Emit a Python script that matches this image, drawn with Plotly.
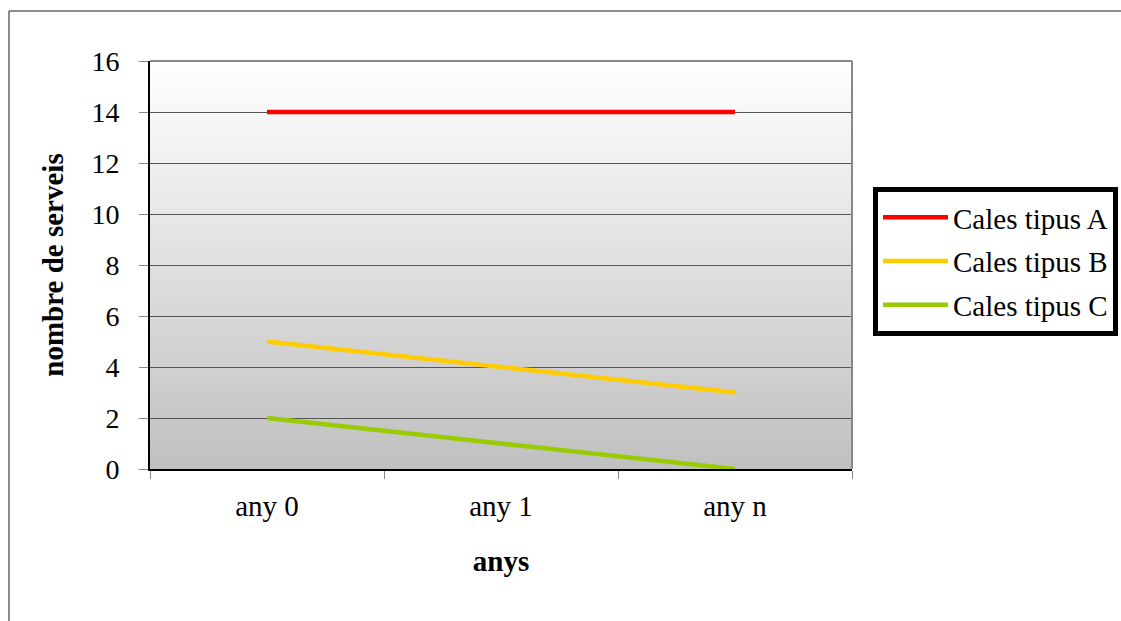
import plotly.graph_objects as go

# Data
categories = ["any 0", "any 1", "any n"]
serie_a = [14, 14, 14]
serie_b = [5, 4, 3]
serie_c = [2, 1, 0]
series_names = ["Cales tipus A", "Cales tipus B", "Cales tipus C"]
series_colors = ["#FF0000", "#FFCC00", "#99CC00"]
y_ticks = [0, 2, 4, 6, 8, 10, 12, 14, 16]

W, H = 1121, 621
L, R, T, B = 150, 269, 61, 152
FONT = "Liberation Serif"
FS = 29

fig = go.Figure()
for i, (name, vals, col) in enumerate(zip(series_names, [serie_a, serie_b, serie_c], series_colors)):
    fig.add_trace(go.Scatter(
        x=categories, y=vals, name=name, mode="lines",
        line=dict(color=col, width=4.5), legendgroup=f"g{i}",
    ))

# vertical gradient of the plotting area: white at top, silver at bottom
shapes = []
n = 102
top_rgb, bot_rgb = 255, 192
for k in range(n):
    f = (k + 0.5) / n
    v = round(top_rgb + (bot_rgb - top_rgb) * f)
    shapes.append(dict(
        type="rect", xref="x domain", yref="y domain",
        x0=0, x1=1, y0=1 - (k + 1) / n - 0.001, y1=1 - k / n + 0.001,
        fillcolor=f"rgb({v},{v},{v})", line=dict(width=0), layer="below",
    ))

# gray top / right border of plot area
shapes.append(dict(type="line", xref="x domain", yref="y domain", x0=0, x1=1, y0=1, y1=1,
                   line=dict(color="#888888", width=2), layer="above"))
shapes.append(dict(type="line", xref="x domain", yref="y domain", x0=1, x1=1, y0=0, y1=1,
                   line=dict(color="#888888", width=2), layer="above"))

# outer chart frame (top and left edges)
pw, ph = W - L - R, H - T - B
fx0 = (9 - L) / pw
fy1 = (H - B - 11) / ph
shapes.append(dict(type="line", xref="paper", yref="paper", x0=fx0, x1=(W + 20 - L) / pw, y0=fy1, y1=fy1,
                   line=dict(color="#666666", width=1.5)))
shapes.append(dict(type="line", xref="paper", yref="paper", x0=fx0, x1=fx0, y0=fy1, y1=-(B + 20) / ph,
                   line=dict(color="#666666", width=1.5)))

fig.update_layout(
    width=W, height=H, autosize=False,
    margin=dict(l=L, r=R, t=T, b=B, pad=0, autoexpand=False),
    paper_bgcolor="white", plot_bgcolor="white",
    font=dict(family=FONT, size=FS, color="black"),
    shapes=shapes,
    showlegend=True,
    legend=dict(
        x=(873 - L) / pw, y=(H - B - 187) / ph, xanchor="left", yanchor="top",
        bordercolor="black", borderwidth=5, bgcolor="white",
        font=dict(family=FONT, size=FS, color="black"),
        tracegroupgap=3, traceorder="grouped", itemwidth=65,
    ),
    xaxis=dict(
        type="category", range=[-0.5, 2.5], tickson="boundaries",
        ticks="outside", ticklen=8, tickcolor="#888888", tickwidth=1,
        showline=True, linecolor="black", linewidth=2,
        showgrid=False, zeroline=False,
        tickfont=dict(family=FONT, size=FS),
        ticklabelstandoff=10,
        title=dict(text="<b>anys</b>", font=dict(family=FONT, size=FS), standoff=30),
    ),
    yaxis=dict(
        range=[0, 16], tickvals=y_ticks,
        ticks="outside", ticklen=9, tickcolor="#888888", tickwidth=1,
        showline=True, linecolor="black", linewidth=2,
        showgrid=True, gridcolor="#555555", gridwidth=1, zeroline=False,
        tickfont=dict(family=FONT, size=28),
        ticklabelstandoff=14,
        title=dict(text="<b>nombre de serveis</b>", font=dict(family=FONT, size=FS), standoff=19),
    ),
)

fig.write_html("out.html")
